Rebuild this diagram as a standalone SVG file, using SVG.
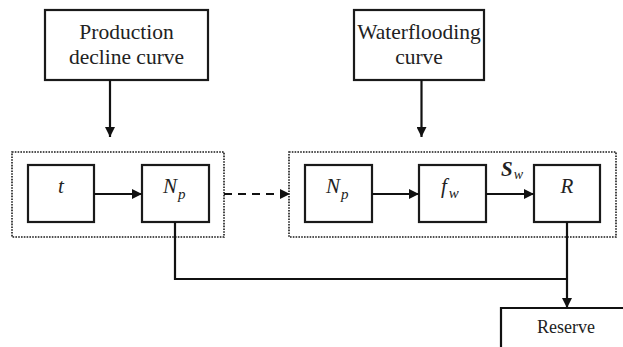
<svg xmlns="http://www.w3.org/2000/svg" width="623" height="347" viewBox="0 0 623 347">
  <defs>
    <marker id="arrow" markerWidth="10" markerHeight="10" refX="10" refY="5" orient="auto" markerUnits="userSpaceOnUse">
      <path d="M0,0 L10,5 L0,10 Z" fill="#111"/>
    </marker>
  </defs>
  <style>
    .box { fill: #fff; stroke: #1a1a1a; stroke-width: 2.2; }
    .group { fill: none; stroke: #1a1a1a; stroke-width: 1.6; stroke-dasharray: 1.6 1.2; }
    .line { fill: none; stroke: #111; stroke-width: 2.2; }
    .dash { stroke-dasharray: 8 6; }
    .txt { font-family: 'Liberation Serif', 'DejaVu Serif', serif; fill: #222; }
    .it { font-style: italic; }
  </style>
  <rect width="623" height="347" fill="#fff"/>

  <!-- dotted grouping frames -->
  <g id="left-group">
    <rect class="group" x="12" y="152" width="212" height="85"/>
  </g>
  <g id="right-group">
    <rect class="group" x="289" y="152" width="327" height="85"/>
  </g>

  <!-- source boxes -->
  <g id="production-decline-curve">
    <rect class="box" x="45" y="10" width="163" height="70"/>
    <text class="txt" x="126.5" y="39" font-size="21.5" text-anchor="middle">Production</text>
    <text class="txt" x="126.5" y="64" font-size="21.5" text-anchor="middle">decline curve</text>
  </g>
  <g id="waterflooding-curve">
    <rect class="box" x="354" y="10" width="130" height="70"/>
    <text class="txt" x="419" y="39" font-size="21.5" text-anchor="middle">Waterflooding</text>
    <text class="txt" x="419" y="64" font-size="21.5" text-anchor="middle">curve</text>
  </g>

  <!-- process boxes -->
  <g id="t">
    <rect class="box" x="28" y="165" width="66" height="57"/>
    <text class="txt it" x="61" y="193" font-size="21" text-anchor="middle">t</text>
  </g>
  <g id="np-left">
    <rect class="box" x="142" y="165" width="67" height="57"/>
    <text class="txt it" x="163" y="193" font-size="21">N<tspan font-size="15" dx="1" dy="6">p</tspan></text>
  </g>
  <g id="np-right">
    <rect class="box" x="305" y="165" width="67" height="57"/>
    <text class="txt it" x="326" y="193" font-size="21">N<tspan font-size="15" dx="1" dy="6">p</tspan></text>
  </g>
  <g id="fw">
    <rect class="box" x="419" y="165" width="67" height="57"/>
    <text class="txt it" x="441" y="193" font-size="21">f<tspan font-size="15" dx="2" dy="5">w</tspan></text>
  </g>
  <g id="r">
    <rect class="box" x="534" y="165" width="66" height="57"/>
    <text class="txt it" x="567" y="193" font-size="21" text-anchor="middle">R</text>
  </g>
  <g id="reserve">
    <path class="line" d="M501,347 L501,308 L623,308"/>
    <text class="txt" x="566" y="333" font-size="18" text-anchor="middle">Reserve</text>
  </g>

  <!-- connectors -->
  <g id="connectors">
    <line class="line" x1="110" y1="80" x2="110" y2="137" marker-end="url(#arrow)"/>
    <line class="line" x1="421.5" y1="80" x2="421.5" y2="137" marker-end="url(#arrow)"/>
    <line class="line" x1="94" y1="194" x2="142" y2="194" marker-end="url(#arrow)"/>
    <line class="line dash" x1="224" y1="194" x2="290" y2="194" marker-end="url(#arrow)"/>
    <line class="line" x1="372" y1="194" x2="419" y2="194" marker-end="url(#arrow)"/>
    <line class="line" x1="486" y1="194" x2="534" y2="194" marker-end="url(#arrow)"/>
    <polyline class="line" points="175,222 175,279 567,279"/>
    <line class="line" x1="567" y1="222" x2="567" y2="308" marker-end="url(#arrow)"/>
    <text class="txt it" x="501" y="176" font-size="21" font-weight="bold">S<tspan font-size="14" font-weight="normal" dx="1" dy="3">w</tspan></text>
  </g>
</svg>
